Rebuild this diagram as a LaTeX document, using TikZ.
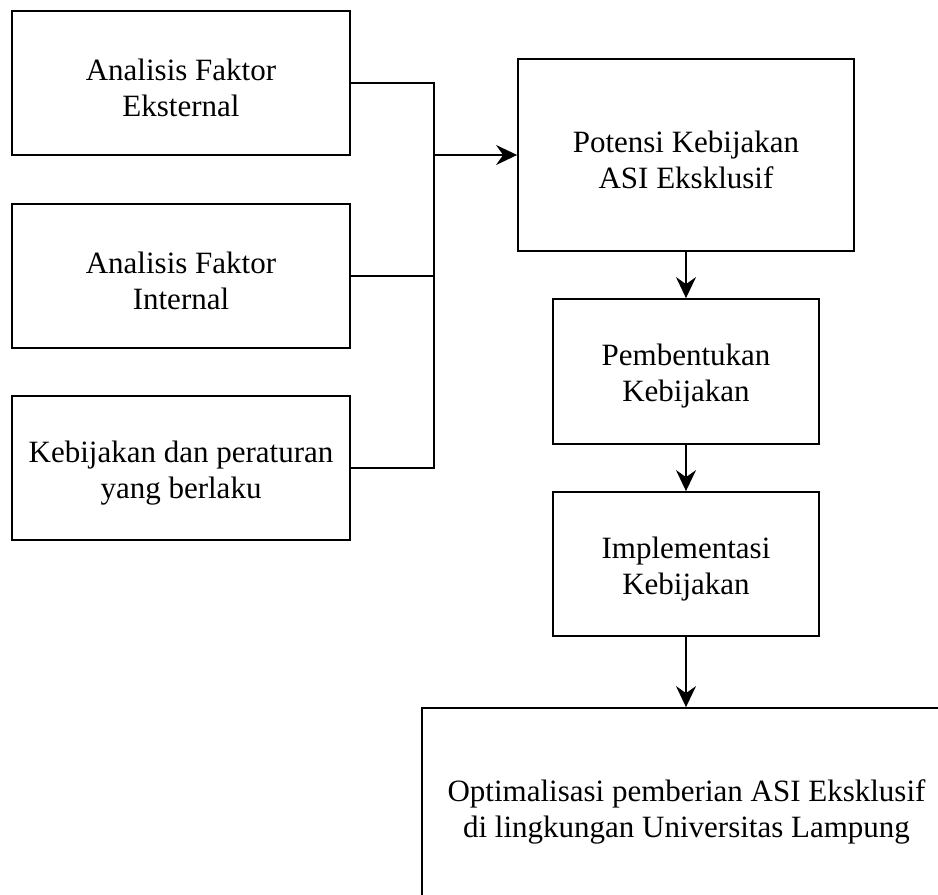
\documentclass[tikz,border=0pt]{standalone}
\usepackage{fontspec}
\setmainfont{Liberation Serif}
\usetikzlibrary{arrows.meta}
\begin{document}
\begin{tikzpicture}[x=1pt,y=-1pt,
  box/.style={draw=black, line width=1.8pt, fill=white, inner sep=0pt},
  lbl/.style={align=center, inner sep=0pt, yshift=-5pt, font=\fontsize{31}{36}\selectfont},
  conn/.style={line width=1.8pt, draw=black},
  arr/.style={conn, -{Stealth[length=21pt,width=20pt,inset=7pt]}}]
\useasboundingbox (0,0) rectangle (938,895);
\fill[white] (0,0) rectangle (938,895);
\clip (0,0) rectangle (938,895);
\node[box, minimum width=337.5pt, minimum height=144pt, label={[lbl]center:Analisis Faktor\\Eksternal}] (b1) at (181,83) {};
\node[box, minimum width=337.5pt, minimum height=144pt, label={[lbl]center:Analisis Faktor\\Internal}] (b2) at (181,276) {};
\node[box, minimum width=337.5pt, minimum height=144pt, label={[lbl]center:Kebijakan dan peraturan\\yang berlaku}] (b3) at (181,468) {};
\node[box, minimum width=336pt, minimum height=192pt, label={[lbl]center:Potensi Kebijakan\\ASI Eksklusif}] (pot) at (686,155) {};
\node[box, minimum width=266pt, minimum height=145pt, label={[lbl]center:Pembentukan\\Kebijakan}] (pem) at (686,371.5) {};
\node[box, minimum width=266pt, minimum height=144pt, label={[lbl]center:Implementasi\\Kebijakan}] (imp) at (686,564) {};
\node[box, minimum width=529pt, minimum height=198pt, label={[lbl]center:Optimalisasi pemberian ASI Eksklusif\\di lingkungan Universitas Lampung}] (opt) at (686.5,807) {};
\coordinate (j) at (434,155);
\draw[conn] (b1.east) -| (j);
\draw[conn] (b3.east) -| (j);
\draw[conn] (b2.east) -- (b2.east -| j);
\draw[arr] (j) -- (pot.west);
\draw[arr] (pot.south) -- (pem.north);
\draw[arr] (pem.south) -- (imp.north);
\draw[arr] (imp.south) -- (imp.south |- opt.north);
\end{tikzpicture}
\end{document}
